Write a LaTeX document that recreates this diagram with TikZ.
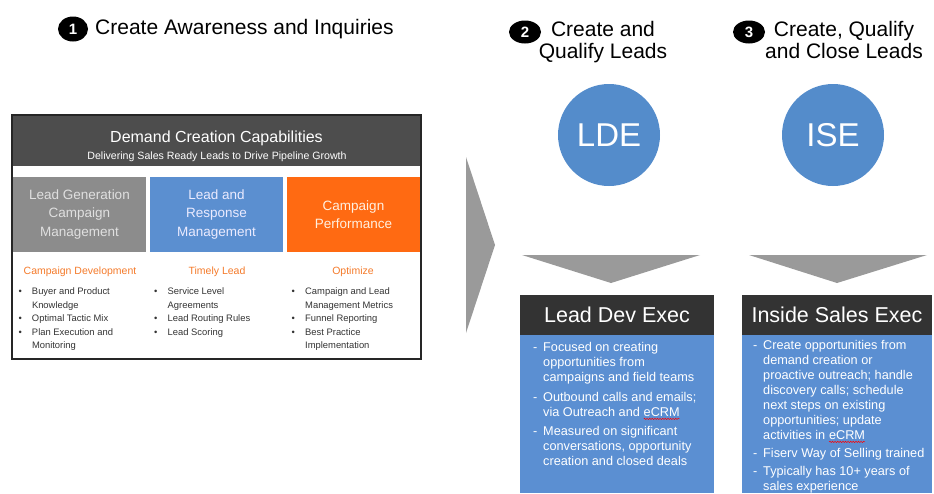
\documentclass[tikz,border=0pt]{standalone}
\usepackage{fontspec}
\setmainfont{Liberation Sans}
\usetikzlibrary{shapes.geometric,decorations.pathmorphing}

\definecolor{hdrgray}{HTML}{4D4D4D}
\definecolor{darkhdr}{HTML}{333333}
\definecolor{boxedge}{HTML}{262626}
\definecolor{boxgray}{HTML}{8C8C8C}
\definecolor{boxblue}{HTML}{5B8FD0}
\definecolor{boxorange}{HTML}{FF6A12}
\definecolor{headorange}{HTML}{F47A2A}
\definecolor{circblue}{HTML}{548CCB}
\definecolor{bodyblue}{HTML}{5B8FD2}
\definecolor{chevgray}{HTML}{9A9A9A}
\definecolor{listgray}{HTML}{333333}

\newcommand{\dotitem}{\makebox[13.5pt][l]{\textbullet}}
\newcommand{\dothang}{\hspace*{13.5pt}}
\newcommand{\dashitem}{\makebox[10pt][l]{-}}
\newcommand{\dashhang}{\hspace*{10pt}}
% red squiggle under a word
\newcommand{\redwave}[1]{\tikz[baseline=(w.base), x=1pt, y=1pt]{%
  \node[inner sep=0pt, outer sep=0pt] (w) {#1};
  \draw[red, line width=0.5pt, decorate, decoration={snake, amplitude=0.7pt, segment length=2.6pt}]
    ([yshift=-2pt]w.base west) -- ([yshift=-2pt]w.base east);}}

\tikzset{
  badge/.style={ellipse, fill=black, text=white, inner sep=0pt, font=\bfseries\fontsize{15}{15}\selectfont},
  steptitle/.style={inner sep=0pt, font=\fontsize{21}{22}\selectfont},
  pillar/.style={minimum width=133pt, minimum height=75pt, inner sep=0pt, align=center,
    font=\fontsize{13.5}{18.5}\selectfont},
  colhead/.style={inner sep=0pt, anchor=base, text=headorange, font=\fontsize{10.5}{10.5}\selectfont},
  bullets/.style={inner sep=0pt, anchor=north west, align=left, text=listgray,
    font=\fontsize{9.4}{13.5}\selectfont},
  rolecircle/.style={circle, fill=circblue, minimum size=102pt, inner sep=0pt, text=white,
    font=\fontsize{33}{33}\selectfont},
  rolehead/.style={fill=darkhdr, minimum height=40pt, inner sep=0pt, text=white,
    font=\fontsize{21.5}{21.5}\selectfont},
  roletext/.style={inner sep=0pt, anchor=north west, align=left, text=white,
    font=\fontsize{12.7}{15}\selectfont}
}

\begin{document}
\begin{tikzpicture}[x=1pt,y=-1pt]
  \useasboundingbox (0,0) rectangle (934,493);

  % Step titles
  \node[badge, minimum width=30pt, minimum height=25pt] (b1) at (73,29) {1};
  \node[steptitle, anchor=base west] (step1) at (95,34) {Create Awareness and Inquiries};

  \node[badge, minimum width=32pt, minimum height=23pt] (b2) at (525,32) {2};
  \node[steptitle, anchor=north, align=center] (step2) at (603,21) {Create and\\Qualify Leads};

  \node[badge, minimum width=32pt, minimum height=23pt] (b3) at (749,32) {3};
  \node[steptitle, anchor=north, align=center] (step3) at (844,21) {Create, Qualify\\and Close Leads};


  % Demand creation panel
  \fill[hdrgray] (12,115) rectangle (421,166);
  \node[anchor=base, inner sep=0pt, text=white, font=\fontsize{16}{16}\selectfont] (dcc) at (216.5,142.5)
    {Demand Creation Capabilities};
  \node[anchor=base, inner sep=0pt, text=white, font=\fontsize{10.6}{10.6}\selectfont] (dsub) at (217,159.5)
    {Delivering Sales Ready Leads to Drive Pipeline Growth};

  \node[pillar, fill=boxgray, text=white!88!black] (lgcm) at (79.5,214.5) {Lead Generation\\Campaign\\Management};
  \node[pillar, fill=boxblue, text=white!92!blue] (lrm) at (216.5,214.5) {Lead and\\Response\\Management};
  \node[pillar, fill=boxorange, text=white!88!orange] (cp) at (353.5,214.5) {Campaign\\Performance};

  \node[colhead] (cdev) at (80,274) {Campaign Development};
  \node[colhead] (tlead) at (217,274) {Timely Lead};
  \node[colhead] (optim) at (353,274) {Optimize};

  \node[bullets] (col1) at (18.3,287.5) {\dotitem Buyer and Product\\ \dothang Knowledge\\
    \dotitem Optimal Tactic Mix\\ \dotitem Plan Execution and\\ \dothang Monitoring};
  \node[bullets] (col2) at (154,287.5) {\dotitem Service Level\\ \dothang Agreements\\
    \dotitem Lead Routing Rules\\ \dotitem Lead Scoring};
  \node[bullets] (col3) at (291.5,287.5) {\dotitem Campaign and Lead\\ \dothang Management Metrics\\
    \dotitem Funnel Reporting\\ \dotitem Best Practice\\ \dothang Implementation};

  \draw[boxedge, line width=1.5pt] (12,115) rectangle (421,359);


  % Big arrow into the sales roles
  \fill[chevgray] (466,157) -- (495,245) -- (466,333) -- cycle;


  % Role circles and down chevrons
  \node[rolecircle] (lde) at (609,135) {LDE};
  \node[rolecircle] (ise) at (833,135) {ISE};

  \fill[chevgray] (522,255) -- (700,255) -- (611,283) -- cycle;
  \fill[chevgray] (749,255) -- (927,255) -- (837,283) -- cycle;


  % Role boxes
  \fill[bodyblue] (520,335) rectangle (714,493);
  \fill[bodyblue] (742,335) rectangle (932,493);

  \node[rolehead, minimum width=194pt] (ldehead) at (617,315) {Lead Dev Exec};
  \node[rolehead, minimum width=190pt] (isehead) at (837,315) {Inside Sales Exec};

  \node[roletext] (ldetext) at (533,342.5) {\dashitem Focused on creating\\ \dashhang opportunities from\\
    \dashhang campaigns and field teams\\[5pt]
    \dashitem Outbound calls and emails;\\ \dashhang via Outreach and \redwave{eCRM}\\[4pt]
    \dashitem Measured on significant\\ \dashhang conversations, opportunity\\
    \dashhang creation and closed deals};

  \node[roletext] (isetext) at (753,340.5) {\dashitem Create opportunities from\\ \dashhang demand creation or\\
    \dashhang proactive outreach; handle\\ \dashhang discovery calls; schedule\\
    \dashhang next steps on existing\\ \dashhang opportunities; update\\
    \dashhang activities in \redwave{eCRM}\\[3pt]
    \dashitem Fiserv Way of Selling trained\\[3pt]
    \dashitem Typically has 10+ years of\\ \dashhang sales experience};

\end{tikzpicture}
\end{document}
